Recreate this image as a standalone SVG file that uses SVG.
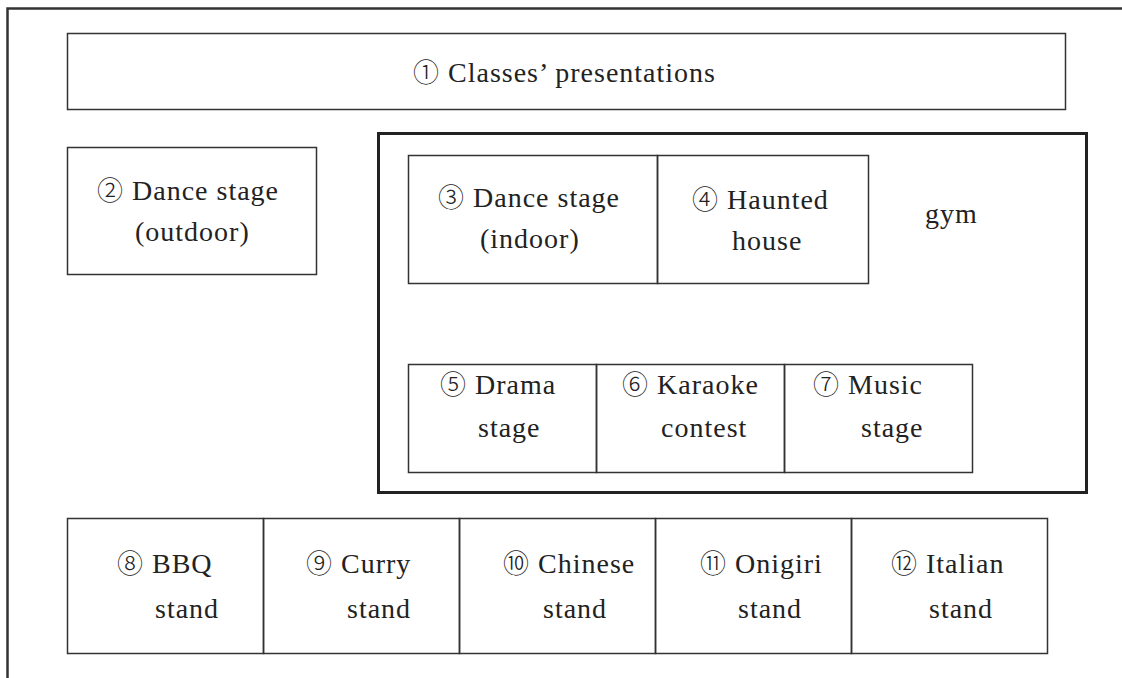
<svg xmlns="http://www.w3.org/2000/svg" width="1122" height="678" viewBox="0 0 1122 678">
<style>
.bx{fill:none;stroke:#333;stroke-width:1.5}
.gym{fill:none;stroke:#222;stroke-width:3}
.fr{fill:none;stroke:#333;stroke-width:2.5}
text{font-family:"Liberation Serif",serif;font-size:28px;fill:#222;letter-spacing:1px}
.n{font-family:"Noto Sans CJK JP",sans-serif;font-size:26px;font-weight:300}
</style>
<rect width="1122" height="678" fill="#fff"/>
<g id="frame"><path class="fr" d="M7.5 678 V8.5 H1122"/></g>
<g id="connectors"></g>
<g id="n1"><rect class="bx" x="67.5" y="33.5" width="998" height="76" stroke="#666"/><text x="413" y="82"><tspan class="n">①</tspan> Classes’ presentations</text></g>
<g id="n2"><rect class="bx" x="67.5" y="147.5" width="249" height="127"/><text x="97" y="200"><tspan class="n">②</tspan> Dance stage</text><text x="135" y="241">(outdoor)</text></g>
<g id="gym"><rect class="gym" x="378.5" y="133.5" width="708" height="359"/><text x="925" y="223">gym</text></g>
<g id="n3"><rect class="bx" x="408.5" y="155.5" width="249" height="128"/><text x="438" y="207"><tspan class="n">③</tspan> Dance stage</text><text x="480" y="248">(indoor)</text></g>
<g id="n4"><rect class="bx" x="657.5" y="155.5" width="211" height="128"/><text x="692" y="209"><tspan class="n">④</tspan> Haunted</text><text x="732" y="250">house</text></g>
<g id="n5"><rect class="bx" x="408.5" y="364.5" width="188" height="108"/><text x="440" y="394"><tspan class="n">⑤</tspan> Drama</text><text x="478" y="437">stage</text></g>
<g id="n6"><rect class="bx" x="596.5" y="364.5" width="188" height="108"/><text x="622" y="394"><tspan class="n">⑥</tspan> Karaoke</text><text x="661" y="437">contest</text></g>
<g id="n7"><rect class="bx" x="784.5" y="364.5" width="188" height="108"/><text x="813" y="394"><tspan class="n">⑦</tspan> Music</text><text x="861" y="437">stage</text></g>
<g id="n8"><rect class="bx" x="67.5" y="518.5" width="196" height="135"/><text x="117" y="573"><tspan class="n">⑧</tspan> BBQ</text><text x="155" y="618">stand</text></g>
<g id="n9"><rect class="bx" x="263.5" y="518.5" width="196" height="135"/><text x="306" y="573"><tspan class="n">⑨</tspan> Curry</text><text x="347" y="618">stand</text></g>
<g id="n10"><rect class="bx" x="459.5" y="518.5" width="196" height="135"/><text x="503" y="573"><tspan class="n">⑩</tspan> Chinese</text><text x="543" y="618">stand</text></g>
<g id="n11"><rect class="bx" x="655.5" y="518.5" width="196" height="135"/><text x="700" y="573"><tspan class="n">⑪</tspan> Onigiri</text><text x="738" y="618">stand</text></g>
<g id="n12"><rect class="bx" x="851.5" y="518.5" width="196" height="135"/><text x="891" y="573"><tspan class="n">⑫</tspan> Italian</text><text x="929" y="618">stand</text></g>
</svg>
